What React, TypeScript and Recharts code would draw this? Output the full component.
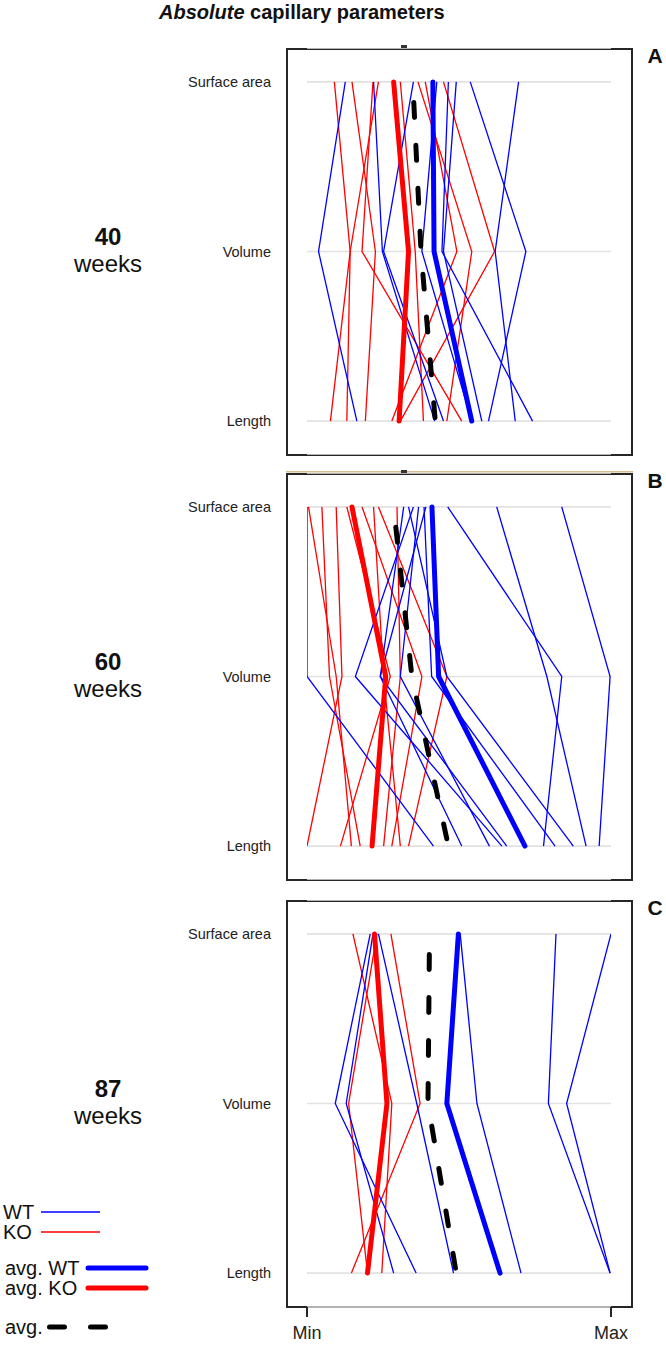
import React from 'react';
import { LineChart, Line, XAxis, YAxis, CartesianGrid } from 'recharts';

// levels, top to bottom
const params = ['Surface area', 'Volume', 'Length'];

// each line: [surface area, volume, length], scaled 0 = Min .. 100 = Max
const wt40 = [
  [12.6, 3.8, 16.4],
  [21.9, 24.8, 42.0],
  [35.0, 25.2, 44.9],
  [42.7, 37.8, 54.2],
  [49.1, 44.9, 57.5],
  [46.5, 44.4, 74.2],
  [53.7, 72.0, 59.7],
  [69.6, 61.9, 68.5],
];
const ko40 = [
  [9.0, 14.2, 13.1],
  [14.8, 22.5, 19.2],
  [21.7, 18.1, 50.9],
  [23.5, 14.2, 7.7],
  [30.7, 35.6, 38.3],
  [38.9, 49.3, 27.9],
  [44.9, 61.7, 30.7],
  [36.5, 54.2, 46.0],
];
const avgWt40 = [41.4, 41.8, 54.2];
const avgKo40 = [28.5, 33.4, 30.3];
const avgAll40 = [34.8, 37.5, 42.2];

const wt60 = [
  [0, 0, 41.6],
  [31.8, 24.1, 65.7],
  [33.4, 46.0, 87.6],
  [35.0, 15.9, 64.1],
  [36.7, 30.7, 60.0],
  [39.1, 24.1, 50.9],
  [38.5, 41.0, 81.6],
  [46.3, 83.8, 77.8],
  [62.4, 78.9, 91.8],
  [83.8, 99.7, 96.1],
];
const ko60 = [
  [0.5, 9.6, 14.6],
  [4.9, 7.4, 17.5],
  [9.6, 11.5, 0],
  [13.1, 27.4, 11.0],
  [18.1, 37.8, 27.9],
  [21.9, 25.2, 30.7],
  [23.5, 46.0, 33.4],
  [29.6, 30.7, 25.2],
];
const avgWt60 = [41.1, 43.3, 71.7];
const avgKo60 = [14.8, 25.9, 21.4];
const avgAll60 = [28.5, 34.5, 46.5];

const wt87 = [
  [20.8, 9.3, 35.9],
  [21.7, 12.9, 28.5],
  [23.5, 36.1, 48.2],
  [50.4, 55.9, 70.4],
  [81.9, 79.4, 99.7],
  [100, 85.4, 99.7],
];
const ko87 = [
  [15.1, 27.9, 24.6],
  [23.0, 13.7, 19.9],
  [27.6, 37.2, 14.6],
];
const avgWt87 = [49.8, 46.0, 63.5];
const avgKo87 = [22.2, 26.3, 19.9];
const avgAll87 = [40.3, 39.8, 49.1];

const axisTicks = ['Min', 'Max'];

const BLUE = '#0000ff';
const RED = '#ff0000';

const buildRows = (wt: number[][], ko: number[][], avgWt: number[], avgKo: number[], avgAll: number[]) =>
  params.map((name, i) => {
    const row: any = { name, pos: i, avgWt: avgWt[i], avgKo: avgKo[i], avgAll: avgAll[i] };
    wt.forEach((l, j) => (row[`wt${j}`] = l[i]));
    ko.forEach((l, j) => (row[`ko${j}`] = l[i]));
    return row;
  });

const PLOT_H = 407;

function Panel({ top, wt, ko, avgWt, avgKo, avgAll, showAxis }: any) {
  const rows = buildRows(wt, ko, avgWt, avgKo, avgAll);
  return (
    <>
      <div
        style={{
          position: 'absolute',
          left: 286,
          top,
          width: 347,
          height: PLOT_H + 1,
          border: '2px solid #262626',
          boxSizing: 'border-box',
        }}
      />
      <div style={{ position: 'absolute', left: 0, top }}>
        <LineChart
          width={666}
          height={showAxis ? PLOT_H + 45 : PLOT_H}
          data={rows}
          layout="vertical"
          margin={{ top: 0, right: 55, bottom: 0, left: 0 }}
        >
          <CartesianGrid vertical={false} stroke="#e2e2e2" strokeWidth={1.6} />
          <XAxis
            type="number"
            domain={[0, 100]}
            ticks={[0, 100]}
            allowDataOverflow
            hide={!showAxis}
            height={45}
            axisLine={false}
            tickSize={10}
            tickMargin={9}
            tickLine={{ stroke: '#262626', strokeWidth: 2 }}
            tickFormatter={(v: number) => (v === 0 ? axisTicks[0] : axisTicks[1])}
            tick={{ fontSize: 18, fill: '#222', fontFamily: 'Liberation Sans, Arial, sans-serif' }}
          />
          <YAxis
            type="number"
            dataKey="pos"
            domain={[-0.2, 2.2]}
            ticks={[0, 1, 2]}
            interval={0}
            allowDataOverflow
            width={307}
            axisLine={false}
            tickLine={false}
            tickSize={0}
            tickMargin={36}
            tickFormatter={(v: number) => params[v]}
            tick={{ fontSize: 14.5, fill: '#222', fontFamily: 'Liberation Sans, Arial, sans-serif' }}
          />
          {ko.map((_: any, j: number) => (
            <Line key={`ko${j}`} type="linear" dataKey={`ko${j}`} stroke={RED} strokeWidth={1.3}
              dot={false} activeDot={false} isAnimationActive={false} />
          ))}
          {wt.map((_: any, j: number) => (
            <Line key={`wt${j}`} type="linear" dataKey={`wt${j}`} stroke={BLUE} strokeWidth={1.3}
              dot={false} activeDot={false} isAnimationActive={false} />
          ))}
          <Line type="linear" dataKey="avgKo" stroke={RED} strokeWidth={5} strokeLinecap="round"
            strokeLinejoin="round" dot={false} activeDot={false} isAnimationActive={false} />
          <Line type="linear" dataKey="avgWt" stroke={BLUE} strokeWidth={5} strokeLinecap="round"
            strokeLinejoin="round" dot={false} activeDot={false} isAnimationActive={false} />
          <Line type="linear" dataKey="avgAll" stroke="#000" strokeWidth={5} strokeLinecap="round"
            strokeDasharray="15 28" strokeDashoffset={22.5} dot={false} activeDot={false}
            isAnimationActive={false} />
        </LineChart>
      </div>
    </>
  );
}

const panelTops = [48, 473, 900];
const ages = ['40', '60', '87'];
const letters = ['A', 'B', 'C'];

export default function App() {
  const font = 'Liberation Sans, Arial, sans-serif';
  return (
    <div style={{ position: 'absolute', left: 0, top: 0, width: 666, height: 1346, background: '#fff', fontFamily: font }}>
      <Panel top={panelTops[0]} wt={wt40} ko={ko40} avgWt={avgWt40} avgKo={avgKo40} avgAll={avgAll40} />
      <Panel top={panelTops[1]} wt={wt60} ko={ko60} avgWt={avgWt60} avgKo={avgKo60} avgAll={avgAll60} />
      <Panel top={panelTops[2]} wt={wt87} ko={ko87} avgWt={avgWt87} avgKo={avgKo87} avgAll={avgAll87} showAxis />
      <svg width={666} height={1346} style={{ position: 'absolute', left: 0, top: 0, pointerEvents: 'none' }} fontFamily={font}>
        <text x={159} y={19} fontSize={20} fontWeight="bold" fill="#111">
          <tspan fontStyle="italic">Absolute</tspan> capillary parameters
        </text>
        <rect x={401} y={45} width={6} height={3} fill="#333" />
        <rect x={286} y={471} width={347} height={1.5} fill="#d8b98c" />
        <rect x={401} y={470} width={6} height={3} fill="#333" />
        {panelTops.map((t, i) => (
          <g key={i}>
            <text x={655} y={t + 15} fontSize={21} fontWeight="bold" textAnchor="middle" fill="#111">{letters[i]}</text>
            <text x={108} y={t + 197} fontSize={24} fontWeight="bold" textAnchor="middle" fill="#111">{ages[i]}</text>
            <text x={108} y={t + 224} fontSize={24} textAnchor="middle" fill="#111">weeks</text>
          </g>
        ))}
        <text x={3} y={1219} fontSize={20} fill="#111">WT</text>
        <line x1={41} x2={100} y1={1212} y2={1212} stroke={BLUE} strokeWidth={1.3} />
        <text x={3} y={1239} fontSize={20} fill="#111">KO</text>
        <line x1={41} x2={100} y1={1232} y2={1232} stroke={RED} strokeWidth={1.3} />
        <text x={5} y={1275} fontSize={20} fill="#111">avg. WT</text>
        <line x1={88} x2={146} y1={1268} y2={1268} stroke={BLUE} strokeWidth={5} strokeLinecap="round" />
        <text x={5} y={1295} fontSize={20} fill="#111">avg. KO</text>
        <line x1={88} x2={146} y1={1288} y2={1288} stroke={RED} strokeWidth={5} strokeLinecap="round" />
        <text x={5} y={1334} fontSize={20} fill="#111">avg.</text>
        <line x1={49.5} x2={105.5} y1={1327} y2={1327} stroke="#000" strokeWidth={5} strokeLinecap="round" strokeDasharray="15 26" />
      </svg>
    </div>
  );
}
